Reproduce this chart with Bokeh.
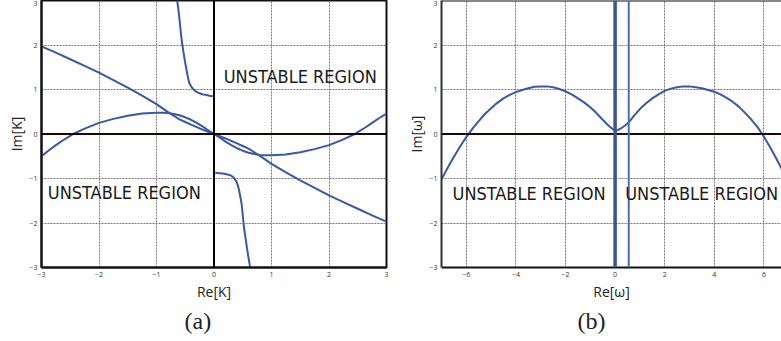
from bokeh.plotting import figure
from bokeh.models import Span, Label, FixedTicker, Title
from bokeh.layouts import row
from bokeh.embed import file_html
from bokeh.resources import INLINE

# ---------------- data ----------------
# panel (a): Re[K] vs Im[K]
a_line_x = [-3.0, -2.75, -2.5, -2.25, -2.0, -1.75, -1.5, -1.25, -1.0, -0.9, -0.8, -0.7, -0.6, -0.5,
            -0.4, -0.3, -0.2, -0.1, 0.0,
            0.1, 0.2, 0.3, 0.4, 0.5, 0.6, 0.7, 0.8, 0.9, 1.0, 1.25, 1.5, 1.75, 2.0, 2.25, 2.5, 2.75, 3.0]
a_line_y = [1.97, 1.83, 1.68, 1.53, 1.38, 1.21, 1.04, 0.86, 0.67, 0.58, 0.49, 0.41, 0.33, 0.27,
            0.21, 0.155, 0.10, 0.05, 0.0,
            -0.05, -0.10, -0.155, -0.21, -0.27, -0.33, -0.41, -0.49, -0.58, -0.67, -0.86, -1.04, -1.21,
            -1.38, -1.53, -1.68, -1.83, -1.97]
a_arc_x = [-3.0, -2.875, -2.75, -2.625, -2.5, -2.45, -2.25, -2.0, -1.75, -1.5, -1.25, -1.0, -0.9, -0.8,
           -0.7, -0.6, -0.5, -0.4, -0.3, -0.2, -0.1, 0.0,
           0.1, 0.2, 0.3, 0.4, 0.5, 0.6, 0.7, 0.8, 0.9, 1.0, 1.25, 1.5, 1.75, 2.0, 2.25, 2.45, 2.5,
           2.625, 2.75, 2.875, 3.0]
a_arc_y = [-0.50, -0.37, -0.25, -0.14, -0.04, 0.0, 0.12, 0.25, 0.34, 0.41, 0.46, 0.48, 0.48, 0.47,
           0.45, 0.42, 0.375, 0.32, 0.25, 0.17, 0.085, 0.0,
           -0.085, -0.17, -0.25, -0.32, -0.375, -0.42, -0.45, -0.47, -0.48, -0.48, -0.46, -0.41,
           -0.34, -0.25, -0.12, 0.0, 0.04, 0.14, 0.25, 0.36, 0.46]
a_up_x = [-0.64, -0.625, -0.61, -0.60, -0.59, -0.58, -0.57, -0.56, -0.55, -0.535, -0.52, -0.505,
          -0.49, -0.475, -0.46, -0.45, -0.435, -0.42, -0.40, -0.376, -0.35, -0.33, -0.30, -0.28,
          -0.25, -0.23, -0.19, -0.15, -0.11, -0.08, -0.05, -0.02]
a_up_y = [3.0, 2.85, 2.7, 2.57, 2.45, 2.32, 2.2, 2.1, 2.0, 1.87, 1.75, 1.63, 1.52, 1.42, 1.32, 1.25,
          1.17, 1.12, 1.08, 1.03, 0.995, 0.97, 0.945, 0.93, 0.915, 0.905, 0.89, 0.88, 0.87, 0.86,
          0.855, 0.85]
a_dn_x = [0.02, 0.06, 0.10, 0.15, 0.20, 0.25, 0.29, 0.32, 0.35, 0.37, 0.39, 0.405, 0.42, 0.435,
          0.45, 0.465, 0.48, 0.49, 0.50, 0.51, 0.52, 0.535, 0.55, 0.565, 0.58, 0.595, 0.61, 0.62, 0.63]
a_dn_y = [-0.87, -0.875, -0.88, -0.89, -0.90, -0.915, -0.93, -0.955, -0.99, -1.03, -1.07, -1.12,
          -1.18, -1.26, -1.36, -1.46, -1.57, -1.69, -1.82, -1.95, -2.09, -2.22, -2.35, -2.49, -2.62,
          -2.74, -2.85, -2.93, -3.0]
a_xticks = [-3, -2, -1, 0, 1, 2, 3]
a_yticks = [-3, -2, -1, 0, 1, 2, 3]

# panel (b): Re[omega] vs Im[omega]
b_x = [-7.0, -6.75, -6.5, -6.25, -6.0, -5.75, -5.5, -5.25, -5.0, -4.75, -4.5, -4.25, -4.0, -3.75,
       -3.5, -3.25, -3.0, -2.75, -2.5, -2.25, -2.0, -1.75, -1.5, -1.25, -1.0, -0.75, -0.5, -0.25,
       -0.1, 0.0, 0.1, 0.25, 0.4, 0.55, 0.75, 1.0, 1.25, 1.5, 1.75, 2.0, 2.25, 2.5, 2.75, 3.0, 3.25,
       3.5, 3.75, 4.0, 4.25, 4.5, 4.75, 5.0, 5.25, 5.5, 5.75, 5.93, 6.0, 6.25, 6.5, 6.75]
b_y = [-1.02, -0.76, -0.51, -0.28, -0.07, 0.12, 0.29, 0.45, 0.58, 0.70, 0.80, 0.88, 0.94, 0.99,
       1.03, 1.06, 1.07, 1.07, 1.05, 1.01, 0.96, 0.89, 0.80, 0.71, 0.60, 0.47, 0.32, 0.18,
       0.11, 0.08, 0.085, 0.13, 0.19, 0.26, 0.40, 0.56, 0.69, 0.80, 0.89, 0.97, 1.02, 1.05, 1.07, 1.07,
       1.05, 1.03, 0.99, 0.95, 0.89, 0.81, 0.72, 0.61, 0.47, 0.32, 0.15, 0.0, -0.06, -0.30, -0.55, -0.82]
b_vlines = [0.0, 0.55]
b_xticks = [-6, -4, -2, 0, 2, 4, 6]
b_yticks = [-3, -2, -1, 0, 1, 2, 3]

BLUE = "#3a57a8"
LABEL_FONT = "Liberation Sans Narrow, DejaVu Sans Condensed, Roboto Condensed, Roboto"


def style(p, xticks, yticks, xlabel, ylabel):
    for ax in (p.xaxis, p.yaxis):
        ax.major_tick_in = 0
        ax.major_tick_out = 0
        ax.minor_tick_line_color = None
        ax.axis_line_width = 2
        ax.axis_line_color = "#111111"
        ax.major_label_text_font = "Open Sans"
        ax.major_label_text_font_size = "7px"
        ax.major_label_text_color = "#333333"
        ax.major_label_standoff = 4
        ax.axis_label_text_font = "Open Sans"
        ax.axis_label_text_font_size = "14px"
        ax.axis_label_text_font_style = "normal"
        ax.axis_label_text_color = "#222222"
    p.xaxis.ticker = FixedTicker(ticks=xticks)
    p.yaxis.ticker = FixedTicker(ticks=yticks)
    p.xaxis.axis_label = xlabel
    p.yaxis.axis_label = ylabel
    p.xaxis.axis_label_standoff = 2
    p.yaxis.axis_label_standoff = 0
    for g in (p.xgrid, p.ygrid):
        g.grid_line_color = "#7a7a7a"
        g.grid_line_dash = "2 1"
        g.grid_line_width = 1
    p.xgrid.ticker = FixedTicker(ticks=xticks)
    p.ygrid.ticker = FixedTicker(ticks=yticks)


def region(p, x, y):
    p.add_layout(Label(x=x, y=y, text="UNSTABLE REGION", text_font=LABEL_FONT,
                       text_font_size="18px", text_align="center", text_baseline="middle",
                       text_color="#1a1a1a"))


def caption(p, text, offset):
    p.add_layout(Title(text=text, align="left", offset=offset, text_font="Liberation Serif",
                       text_font_size="24px", text_font_style="normal", text_color="#222222",
                       standoff=4), "below")


# ---------------- panel (a) ----------------
p1 = figure(width=390, height=341, x_range=(-3, 3), y_range=(-3, 3),
            output_backend="svg", toolbar_location=None,
            min_border_left=41, min_border_right=4, min_border_top=0, min_border_bottom=74)
style(p1, a_xticks, a_yticks, "Re[K]", "Im[K]")
p1.outline_line_color = "#111111"
p1.outline_line_width = 2
p1.outline_line_alpha = 1.0
p1.add_layout(Span(location=0, dimension="width", line_color="#1a0606", line_width=2))
p1.add_layout(Span(location=0, dimension="height", line_color="#000000", line_width=2))
for xs, ys in ((a_line_x, a_line_y), (a_arc_x, a_arc_y), (a_up_x, a_up_y), (a_dn_x, a_dn_y)):
    p1.line(xs, ys, line_color=BLUE, line_width=2)
region(p1, 1.5, 1.30)
region(p1, -1.56, -1.31)
caption(p1, "(a)", 143)

# ---------------- panel (b) ----------------
p2 = figure(width=391, height=341, x_range=(-7, 6.71), y_range=(-3, 3),
            output_backend="svg", toolbar_location=None,
            min_border_left=51, min_border_right=0, min_border_top=0, min_border_bottom=74)
style(p2, b_xticks, b_yticks, "Re[ω]", "Im[ω]")
p2.outline_line_color = None
p2.yaxis.major_label_standoff = 4
p2.yaxis.axis_line_color = "#333333"
p2.add_layout(Span(location=b_yticks[-1], dimension="width", line_color="#111111", line_width=2))
p2.add_layout(Span(location=0, dimension="width", line_color="#1a0606", line_width=2))
p2.add_layout(Span(location=b_vlines[0], dimension="height", line_color="#3a5596", line_width=3.5))
p2.add_layout(Span(location=b_vlines[1], dimension="height", line_color="#4a6cc0", line_width=2))
p2.line(b_x, b_y, line_color=BLUE, line_width=2)
region(p2, -3.47, -1.34)
region(p2, 3.49, -1.34)
caption(p2, "(b)", 136)

layout = row(p1, p2)
open("out.html", "w").write(file_html(layout, INLINE))
